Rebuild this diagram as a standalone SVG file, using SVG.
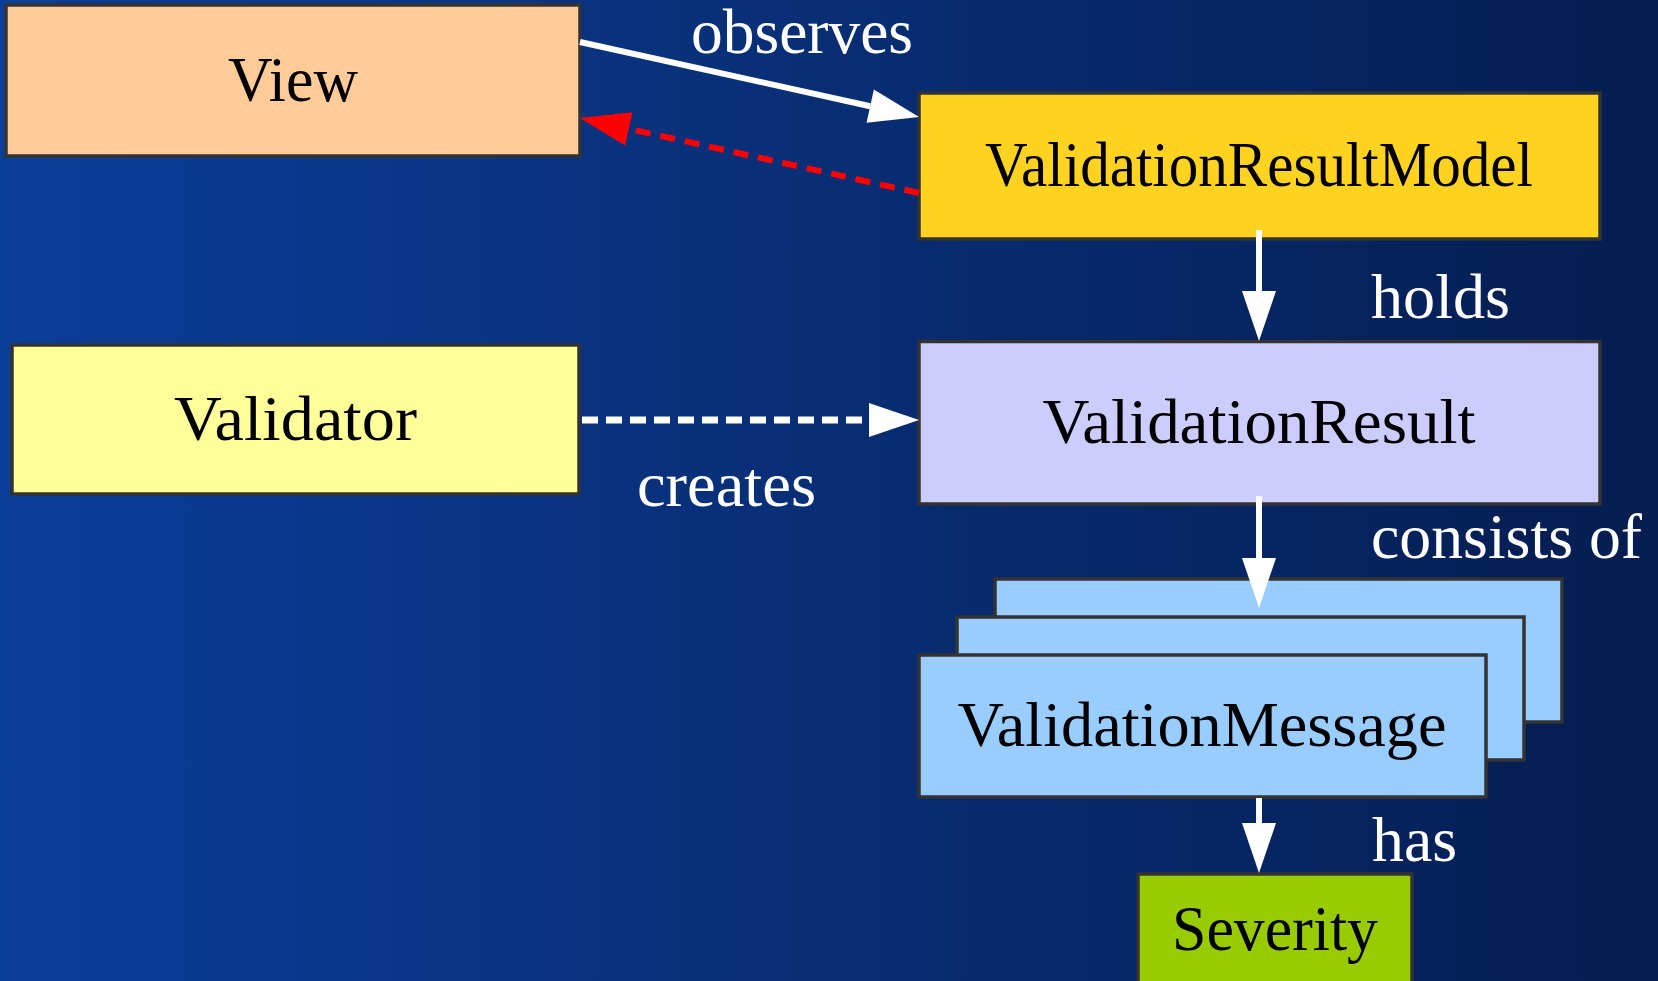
<svg xmlns="http://www.w3.org/2000/svg" width="1658" height="981" viewBox="0 0 1658 981">
  <defs>
    <linearGradient id="bg" x1="0" y1="0" x2="1" y2="0">
      <stop offset="0" stop-color="#0b3e99"/>
      <stop offset="1" stop-color="#051d50"/>
    </linearGradient>
    <marker id="arrW" markerUnits="userSpaceOnUse" markerWidth="52" markerHeight="36" refX="0" refY="17" orient="auto" overflow="visible">
      <path d="M0,0 L50,17 L0,34 Z" fill="#ffffff"/>
    </marker>
    <marker id="arrR" markerUnits="userSpaceOnUse" markerWidth="52" markerHeight="36" refX="0" refY="17" orient="auto" overflow="visible">
      <path d="M0,0 L50,17 L0,34 Z" fill="#ff0000"/>
    </marker>
    <style>
      .node rect { stroke: #333333; stroke-width: 3.5; }
      .node text { font-family: "Liberation Serif", "Times New Roman", serif; font-size: 63px; fill: #000000; text-anchor: middle; }
      .label { font-family: "Liberation Serif", "Times New Roman", serif; font-size: 63px; fill: #ffffff; }
      .edge { fill: none; stroke-width: 6; }
      .white { stroke: #ffffff; marker-end: url(#arrW); }
      .red { stroke: #ff0000; marker-end: url(#arrR); stroke-dasharray: 15 10; }
      .dash { stroke-dasharray: 16 8; stroke-width: 7; }
    </style>
  </defs>
  <rect x="0" y="0" width="1658" height="981" fill="url(#bg)"/>

  <g id="view" class="node">
    <rect x="6" y="5" width="574" height="151" fill="#ffcc99"/>
    <text x="293" y="101" textLength="130" lengthAdjust="spacingAndGlyphs">View</text>
  </g>
  <g id="validationResultModel" class="node">
    <rect x="919" y="93" width="681" height="146" fill="#ffd320"/>
    <text x="1259" y="186" textLength="548" lengthAdjust="spacingAndGlyphs">ValidationResultModel</text>
  </g>
  <g id="validator" class="node">
    <rect x="12" y="345" width="567" height="149" fill="#ffff99"/>
    <text x="295.5" y="440" textLength="243" lengthAdjust="spacingAndGlyphs">Validator</text>
  </g>
  <g id="validationResult" class="node">
    <rect x="919" y="341.5" width="681" height="162.5" fill="#ccccff"/>
    <text x="1259" y="443" textLength="433" lengthAdjust="spacingAndGlyphs">ValidationResult</text>
  </g>
  <g id="validationMessage" class="node">
    <rect x="995" y="579" width="567" height="143" fill="#99ccff"/>
    <rect x="957" y="617" width="567" height="143" fill="#99ccff"/>
    <rect x="919" y="655" width="567" height="142" fill="#99ccff"/>
    <text x="1202" y="746" textLength="489" lengthAdjust="spacingAndGlyphs">ValidationMessage</text>
  </g>
  <g id="severity" class="node">
    <rect x="1138" y="874" width="274" height="142" fill="#99cc00"/>
    <text x="1275" y="950" textLength="206" lengthAdjust="spacingAndGlyphs">Severity</text>
  </g>

  <g id="connectors">
    <line class="edge white" x1="580" y1="42" x2="870.2" y2="106.2"/>
    <line class="edge red" x1="919" y1="193" x2="628.8" y2="128.8"/>
    <line class="edge white dash" x1="582" y1="420" x2="869" y2="420"/>
    <line class="edge white" x1="1259" y1="230" x2="1259" y2="291"/>
    <line class="edge white" x1="1259" y1="496" x2="1259" y2="558"/>
    <line class="edge white" x1="1259" y1="798" x2="1259" y2="823"/>
    <text class="label" x="691" y="53" textLength="222" lengthAdjust="spacingAndGlyphs">observes</text>
    <text class="label" x="1371" y="318" textLength="139" lengthAdjust="spacingAndGlyphs">holds</text>
    <text class="label" x="637" y="506" textLength="179" lengthAdjust="spacingAndGlyphs">creates</text>
    <text class="label" x="1371" y="558" textLength="271" lengthAdjust="spacingAndGlyphs">consists of</text>
    <text class="label" x="1372" y="861" textLength="85" lengthAdjust="spacingAndGlyphs">has</text>
  </g>
</svg>
